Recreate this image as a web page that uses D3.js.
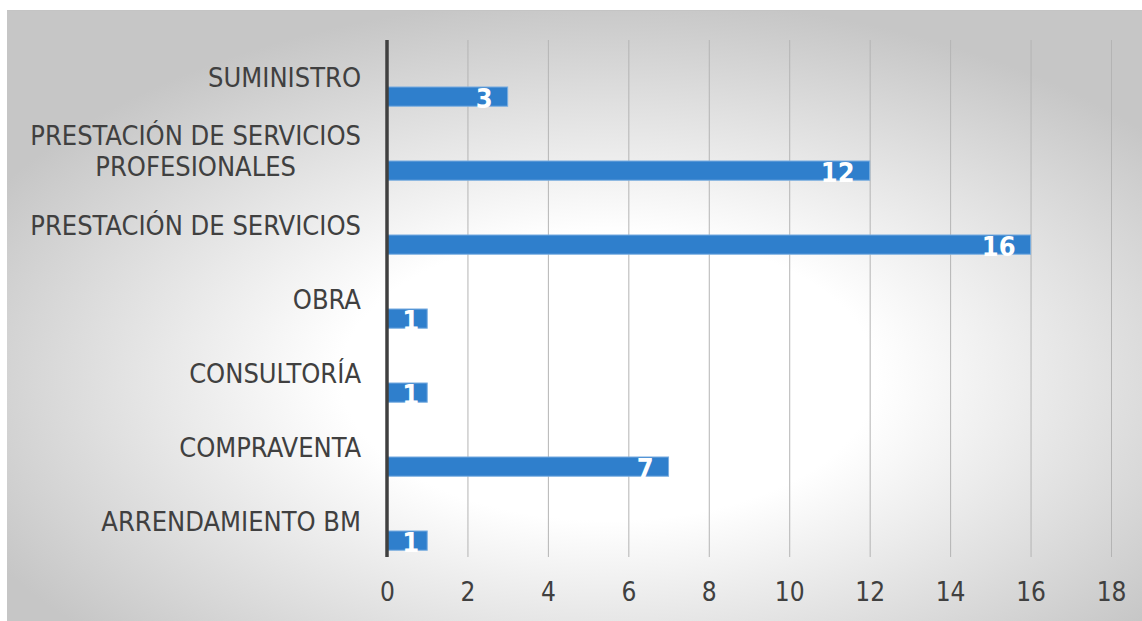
<!DOCTYPE html>
<html>
<head>
<meta charset="utf-8">
<script src="https://cdn.jsdelivr.net/npm/d3@7"></script>
<style>
  html, body { margin: 0; padding: 0; background: #ffffff; }
  svg { display: block; }
</style>
</head>
<body>
<svg id="chart" width="1142" height="621"></svg>
<script>
// data, top to bottom as drawn
const categories = [
  "SUMINISTRO",
  "PRESTACIÓN DE SERVICIOS PROFESIONALES",
  "PRESTACIÓN DE SERVICIOS",
  "OBRA",
  "CONSULTORÍA",
  "COMPRAVENTA",
  "ARRENDAMIENTO BM"
];
const values = [3, 12, 16, 1, 1, 7, 1];
const tickValues = [0, 2, 4, 6, 8, 10, 12, 14, 16, 18];

const width = 1142, height = 621;
const font = "'DejaVu Sans Condensed', 'DejaVu Sans', sans-serif";
const textColor = "#404040";

const svg = d3.select("#chart");

// background gradient of the chart area
const defs = svg.append("defs");
const grad = defs.append("radialGradient")
  .attr("id", "bg")
  .attr("cx", 0.53).attr("cy", 0.6).attr("r", 0.62);
grad.append("stop").attr("offset", "0").attr("stop-color", "#ffffff");
grad.append("stop").attr("offset", "0.38").attr("stop-color", "#ffffff");
grad.append("stop").attr("offset", "1").attr("stop-color", "#c6c6c6");

svg.append("rect")
  .attr("x", 7).attr("y", 10)
  .attr("width", width - 7).attr("height", height - 10)
  .attr("fill", "url(#bg)");
svg.append("line")
  .attr("x1", 7).attr("x2", width).attr("y1", 10.5).attr("y2", 10.5)
  .attr("stroke", "#c4c4c4");

// scales
const x = d3.scaleLinear().domain([0, 18]).range([387, 1111]);
const y = d3.scaleBand().domain(categories).range([40, 558]).paddingInner(0);

const plotBottom = 557;

// x axis with gridlines
const xAxis = svg.append("g")
  .attr("transform", `translate(0,${plotBottom})`)
  .call(d3.axisBottom(x).tickValues(tickValues).tickSize(-(plotBottom - 40)).tickPadding(26));
xAxis.select(".domain").remove();
xAxis.selectAll(".tick line")
  .attr("stroke", "#b4b4b4")
  .attr("stroke-width", 1);
xAxis.selectAll(".tick text")
  .attr("fill", textColor)
  .style("font-family", font)
  .style("font-size", "26px");

// bars
const barTop = y.bandwidth() * 0.635;
const barH = y.bandwidth() * 0.26;
svg.selectAll("rect.bar")
  .data(values)
  .join("rect")
  .attr("class", "bar")
  .attr("x", x(0))
  .attr("y", (_, i) => y(categories[i]) + barTop)
  .attr("width", d => x(d) - x(0))
  .attr("height", barH)
  .attr("fill", "#2f7fcc")
  .attr("stroke", "#7aaee0")
  .attr("stroke-width", 1);

// data labels (inside end)
svg.selectAll("text.val")
  .data(values)
  .join("text")
  .attr("class", "val")
  .attr("x", d => x(d) - (d < 2 ? 8 : 15))
  .attr("y", (_, i) => y(categories[i]) + barTop + barH + 2)
  .attr("text-anchor", "end")
  .attr("fill", "#ffffff")
  .style("font-family", font)
  .style("font-size", "27px")
  .style("font-weight", "bold")
  .text(d => d);

// zero axis line
svg.append("line")
  .attr("x1", x(0)).attr("x2", x(0))
  .attr("y1", 40).attr("y2", plotBottom)
  .attr("stroke", "#404040")
  .attr("stroke-width", 3.5);

// category labels, wrapped, lines centred inside a right-aligned block
const labelRight = 361;
const labelSize = 27;
const lineH = 31;
const capH = 19;
const maxW = 370;

const measure = svg.append("text")
  .style("font-family", font).style("font-size", labelSize + "px");
function textW(s) { measure.text(s); return measure.node().getComputedTextLength(); }

categories.forEach(cat => {
  const words = cat.split(" ");
  const lines = [];
  let cur = "";
  words.forEach(w => {
    const t = cur ? cur + " " + w : w;
    if (cur && textW(t) > maxW) { lines.push(cur); cur = w; } else cur = t;
  });
  lines.push(cur);
  const blockW = d3.max(lines, textW);
  const cy = y(cat) + y.bandwidth() / 2;
  const first = cy - (lines.length - 1) * lineH / 2 + capH / 2;
  lines.forEach((ln, j) => {
    svg.append("text")
      .attr("x", labelRight - blockW / 2)
      .attr("y", first + j * lineH)
      .attr("text-anchor", "middle")
      .attr("fill", textColor)
      .style("font-family", font)
      .style("font-size", labelSize + "px")
      .text(ln);
  });
});
measure.remove();
</script>
</body>
</html>
